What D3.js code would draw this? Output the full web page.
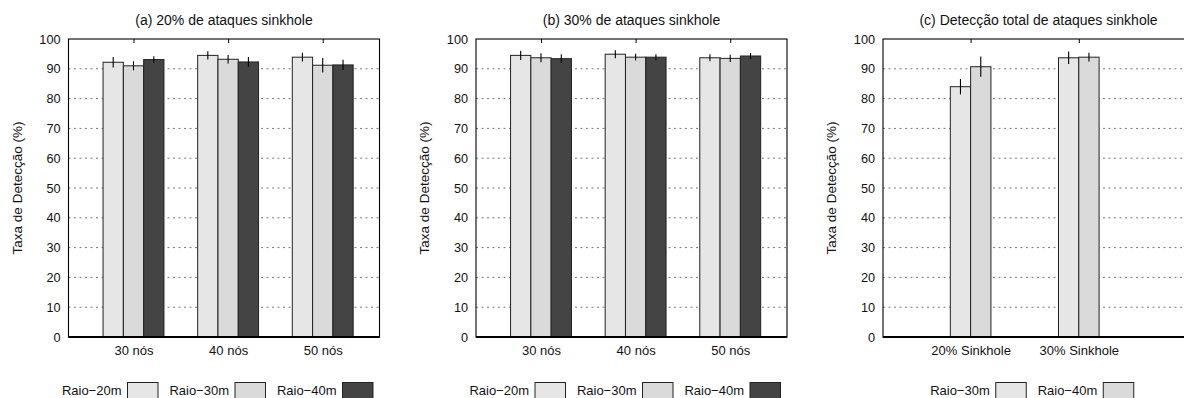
<!DOCTYPE html>
<html>
<head>
<meta charset="utf-8">
<script src="https://cdn.jsdelivr.net/npm/d3@7"></script>
<style>
  html, body { margin: 0; padding: 0; background: #fff; }
  svg { display: block; font-family: "Liberation Sans", Arial, Helvetica, sans-serif; }
</style>
</head>
<body>
<svg id="chart" width="1184" height="398"></svg>
<script>
// ---- data ----
const yTicks = [0, 10, 20, 30, 40, 50, 60, 70, 80, 90, 100];

// (a) 20% sinkhole attacks
const titleA = "(a) 20% de ataques sinkhole";
const categoriesA = ["30 nós", "40 nós", "50 nós"];
const seriesA = ["Raio−20m", "Raio−30m", "Raio−40m"];
const raio20A = [92.2, 94.5, 93.9];
const raio30A = [91.0, 93.2, 91.2];
const raio40A = [93.1, 92.3, 91.3];
const err20A = [1.75, 1.35, 1.45];
const err30A = [1.55, 1.45, 2.45];
const err40A = [1.15, 1.65, 1.7];

// (b) 30% sinkhole attacks
const titleB = "(b) 30% de ataques sinkhole";
const categoriesB = ["30 nós", "40 nós", "50 nós"];
const seriesB = ["Raio−20m", "Raio−30m", "Raio−40m"];
const raio20B = [94.5, 94.9, 93.7];
const raio30B = [93.7, 93.9, 93.5];
const raio40B = [93.4, 93.9, 94.3];
const err20B = [1.55, 1.35, 1.15];
const err30B = [1.5, 1.15, 1.2];
const err40B = [1.45, 1.0, 1.0];

// (c) total detection
const titleC = "(c) Detecção total de ataques sinkhole";
const categoriesC = ["20% Sinkhole", "30% Sinkhole"];
const seriesC = ["Raio−30m", "Raio−40m"];
const raio30C = [84.0, 93.7];
const raio40C = [90.7, 93.9];
const err30C = [2.6, 2.1];
const err40C = [3.4, 1.45];

const yLabel = "Taxa de Detecção (%)";

// ---- layout ----
const svg = d3.select("#chart");
const plotTop = 39, plotBottom = 337, plotW = 311;
const barW = 20.3;
const legendStep = 107.5;
const fill3 = ["#e6e6e6", "#dadada", "#444444"];
const fill2 = ["#e6e6e6", "#dadada"];
const font = "Liberation Sans, Arial, sans-serif";

const panels = [
  { left: 68.5, domain: [-0.687, 2.6], title: titleA, cats: categoriesA, series: seriesA,
    values: [raio20A, raio30A, raio40A], errs: [err20A, err30A, err40A], fills: fill3 },
  { left: 476, domain: [-0.687, 2.6], title: titleB, cats: categoriesB, series: seriesB,
    values: [raio20B, raio30B, raio40B], errs: [err20B, err30B, err40B], fills: fill3 },
  { left: 883, domain: [-0.81, 2.065], title: titleC, cats: categoriesC, series: seriesC,
    values: [raio30C, raio40C], errs: [err30C, err40C], fills: fill2 }
];

const y = d3.scaleLinear().domain([0, 100]).range([plotBottom, plotTop]);

panels.forEach(p => {
  const g = svg.append("g");
  const x = d3.scaleLinear().domain(p.domain).range([p.left, p.left + plotW]);
  const n = p.series.length;
  const cx = p.left + plotW / 2;

  // dotted grid
  g.append("g").selectAll("line")
    .data(yTicks.filter(t => t > 0 && t < 100))
    .join("line")
    .attr("x1", p.left).attr("x2", p.left + plotW)
    .attr("y1", d => y(d)).attr("y2", d => y(d))
    .attr("stroke", "#777").attr("stroke-width", 1)
    .attr("stroke-dasharray", "2,3.5");

  // bars
  p.series.forEach((s, si) => {
    const off = (si - (n - 1) / 2) * barW;
    g.append("g").selectAll("rect")
      .data(p.cats.map((c, ci) => ({ ci, v: p.values[si][ci], e: p.errs[si][ci] })))
      .join("rect")
      .attr("x", d => x(d.ci) + off - barW / 2)
      .attr("width", barW)
      .attr("y", d => y(d.v))
      .attr("height", d => y(0) - y(d.v))
      .attr("fill", p.fills[si])
      .attr("stroke", "#222").attr("stroke-width", 1);
  });

  // error bars
  p.series.forEach((s, si) => {
    const off = (si - (n - 1) / 2) * barW;
    g.append("g").selectAll("line")
      .data(p.cats.map((c, ci) => ({ ci, v: p.values[si][ci], e: p.errs[si][ci] })))
      .join("line")
      .attr("x1", d => x(d.ci) + off).attr("x2", d => x(d.ci) + off)
      .attr("y1", d => y(d.v + d.e)).attr("y2", d => y(d.v - d.e))
      .attr("stroke", "#000").attr("stroke-width", 1.1);
  });

  // frame
  g.append("rect")
    .attr("x", p.left).attr("y", plotTop)
    .attr("width", plotW).attr("height", plotBottom - plotTop)
    .attr("fill", "none").attr("stroke", "#000").attr("stroke-width", 1.1);
  g.append("line")
    .attr("x1", p.left).attr("x2", p.left + plotW)
    .attr("y1", plotBottom).attr("y2", plotBottom)
    .attr("stroke", "#000").attr("stroke-width", 2);

  // y axis
  const ya = g.append("g").attr("transform", `translate(${p.left},0)`)
    .call(d3.axisLeft(y).tickValues(yTicks).tickSize(0).tickPadding(8));
  ya.select(".domain").remove();
  ya.selectAll("text").attr("font-size", 12.7).attr("fill", "#111").attr("font-family", font);

  // x axis labels
  const xa = g.append("g").attr("transform", `translate(0,${plotBottom})`)
    .call(d3.axisBottom(x).tickValues(p.cats.map((c, i) => i))
      .tickFormat(i => p.cats[i]).tickSize(0).tickPadding(9));
  xa.select(".domain").remove();
  xa.selectAll("text").attr("font-size", 13).attr("fill", "#111").attr("font-family", font);

  // top mirror ticks
  const xt = g.append("g").attr("transform", `translate(0,${plotTop})`)
    .call(d3.axisTop(x).tickValues(p.cats.map((c, i) => i)).tickFormat("").tickSize(-4));
  xt.select(".domain").remove();
  xt.selectAll("line").attr("stroke", "#000");

  // title
  g.append("text")
    .attr("x", cx).attr("y", 25)
    .attr("text-anchor", "middle").attr("font-size", 14).attr("fill", "#111")
    .text(p.title);

  // y label
  g.append("text")
    .attr("transform", `translate(${p.left - 47},${(plotTop + plotBottom) / 2}) rotate(-90)`)
    .attr("text-anchor", "middle").attr("font-size", 13.5).attr("fill", "#111")
    .text(yLabel);

  // legend
  const lg = g.append("g");
  p.series.forEach((s, si) => {
    const bx = cx + 11 + (si - (n - 1) / 2) * legendStep;
    lg.append("rect")
      .attr("x", bx).attr("y", 382.5)
      .attr("width", 30.5).attr("height", 20)
      .attr("fill", p.fills[si]).attr("stroke", "#222").attr("stroke-width", 1);
    lg.append("text")
      .attr("x", bx - 6).attr("y", 395)
      .attr("text-anchor", "end").attr("font-size", 13).attr("fill", "#111")
      .text(s);
  });
});
</script>
</body>
</html>
